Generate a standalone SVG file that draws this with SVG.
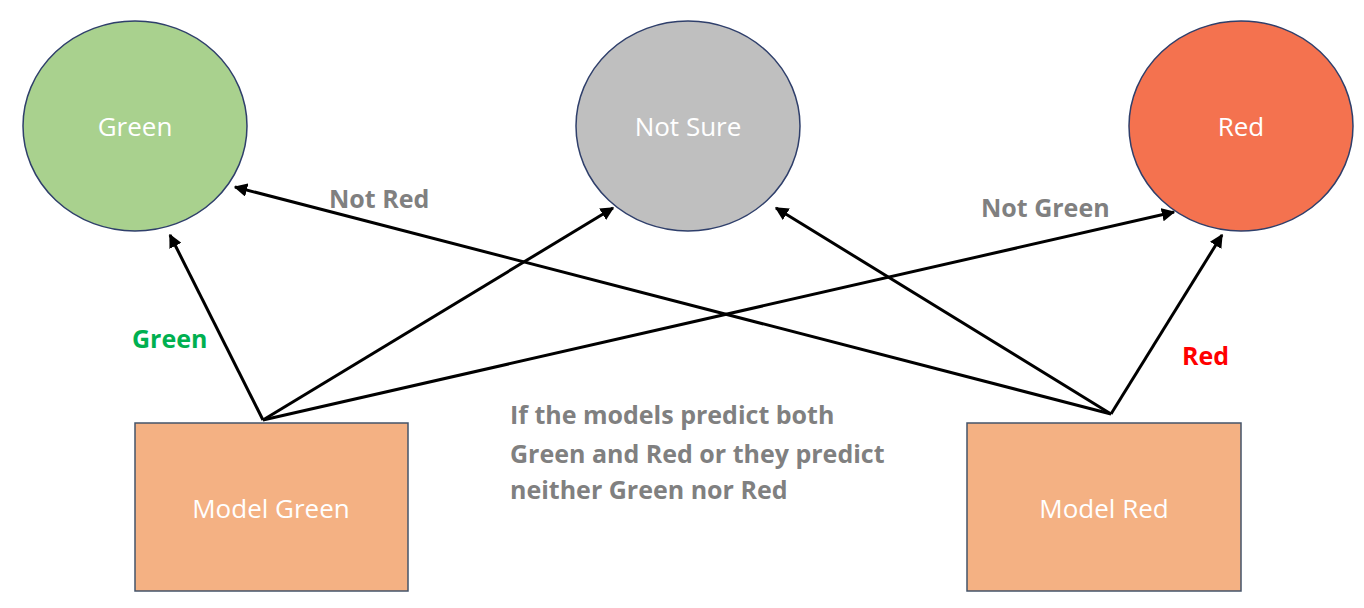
<svg xmlns="http://www.w3.org/2000/svg" width="1364" height="608" viewBox="0 0 1364 608">
<style>
.c{stroke:#2f3f6b;stroke-width:1.5}
.b{fill:#f4b183;stroke:#44546a;stroke-width:1.5}
.w{fill:#ffffff;font-family:"Open Sans","Liberation Sans",sans-serif;font-size:26px;text-anchor:middle;dominant-baseline:central}
.l{font-family:"Open Sans","Liberation Sans",sans-serif;font-size:25px;font-weight:bold}
.g{fill:#808080}
.e{stroke:#000;stroke-width:3;fill:none;marker-end:url(#ah)}
</style>
<defs>
<marker id="ah" viewBox="0 0 10 10" refX="9" refY="5" markerWidth="4.5" markerHeight="4.5" orient="auto" markerUnits="strokeWidth">
<path d="M0,0 L10,5 L0,10 z" fill="#000"/>
</marker>
</defs>
<rect width="1364" height="608" fill="#fff"/>
<g id="connectors">
<line class="e" x1="263" y1="420" x2="170" y2="235"/>
<line class="e" x1="263" y1="420" x2="613" y2="208"/>
<line class="e" x1="263" y1="420" x2="1174" y2="212"/>
<line class="e" x1="1111" y1="414" x2="1222" y2="235"/>
<line class="e" x1="1111" y1="414" x2="776" y2="208"/>
<line class="e" x1="1111" y1="414" x2="235" y2="187"/>
</g>
<g id="node-green">
<ellipse class="c" cx="135" cy="126" rx="112" ry="105" fill="#a9d18e"/>
<text class="w" x="135" y="126">Green</text>
</g>
<g id="node-notsure">
<ellipse class="c" cx="688" cy="126" rx="112" ry="105" fill="#bfbfbf"/>
<text class="w" x="688" y="126">Not Sure</text>
</g>
<g id="node-red">
<ellipse class="c" cx="1241" cy="126" rx="112" ry="105" fill="#f4724f"/>
<text class="w" x="1241" y="126">Red</text>
</g>
<g id="node-model-green">
<rect class="b" x="135" y="423" width="273" height="168"/>
<text class="w" x="271" y="508">Model Green</text>
</g>
<g id="node-model-red">
<rect class="b" x="967" y="423" width="274" height="168"/>
<text class="w" x="1104" y="508">Model Red</text>
</g>
<g id="labels">
<text class="l g" x="329" y="208">Not Red</text>
<text class="l g" x="981" y="217">Not Green</text>
<text class="l" x="132" y="348" fill="#00b050">Green</text>
<text class="l" x="1182" y="365" fill="#ff0000">Red</text>
<text class="l g" x="510" y="424">If the models predict both</text>
<text class="l g" x="510" y="463">Green and Red or they predict</text>
<text class="l g" x="510" y="499">neither Green nor Red</text>
</g>
</svg>
